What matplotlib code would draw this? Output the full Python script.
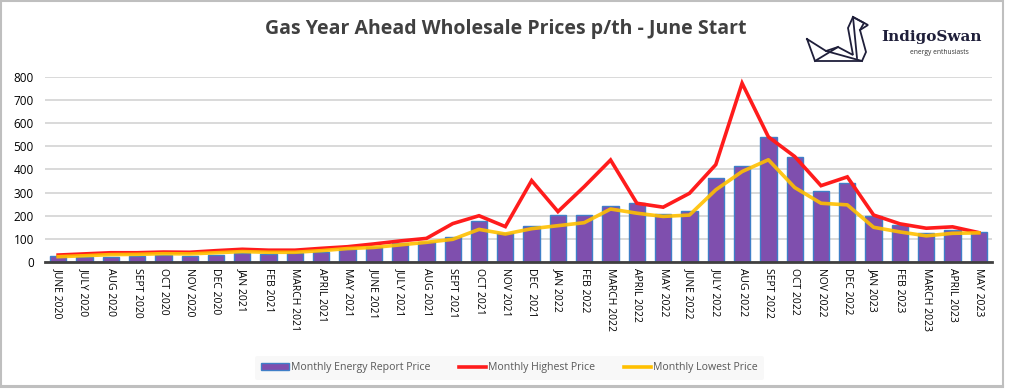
"""
Gas year-ahead wholesale prices (p/th), June 2020 - May 2023.
Bars = monthly energy report price, lines = monthly high / low.
"""

import matplotlib
matplotlib.use("Agg")
import matplotlib.pyplot as plt
from matplotlib.patches import Rectangle
from matplotlib.lines import Line2D

months = ["JUNE 2020", "JULY 2020", "AUG 2020", "SEPT 2020", "OCT 2020", "NOV 2020",
          "DEC 2020", "JAN 2021", "FEB 2021", "MARCH 2021", "APRIL 2021", "MAY 2021",
          "JUNE 2021", "JULY 2021", "AUG 2021", "SEPT 2021", "OCT 2021", "NOV 2021",
          "DEC  2021", "JAN 2022", "FEB 2022", "MARCH 2022", "APRIL 2022", "MAY 2022",
          "JUNE 2022", "JULY 2022", "AUG 2022", "SEPT 2022", "OCT 2022", "NOV 2022",
          "DEC 2022", "JAN 2023", "FEB 2023", "MARCH 2023", "APRIL 2023", "MAY 2023"]

report_price = [27, 20, 23, 26, 29, 27, 32, 37, 36, 37, 45, 55,
                66, 82, 88, 108, 176, 124, 154, 205, 202, 242, 255, 207,
                222, 365, 416, 541, 452, 307, 341, 198, 162, 124, 139, 128]

highest_price = [30, 35, 40, 40, 43, 42, 49, 55, 51, 51, 59, 66,
                 78, 91, 102, 166, 200, 153, 352, 218, 326, 441, 254, 237,
                 297, 421, 773, 541, 456, 330, 368, 203, 165, 146, 152, 127]

lowest_price = [23, 27, 32, 33, 36, 35, 40, 45, 42, 42, 49, 58,
                63, 74, 85, 98, 141, 121, 144, 157, 170, 229, 211, 197,
                203, 312, 391, 442, 322, 254, 247, 150, 130, 113, 124, 126]

yticks = [0, 100, 200, 300, 400, 500, 600, 700, 800]

PURPLE = "#7f4fae"
EDGE = "#3f7fc8"
RED = "#ff1c1c"
GOLD = "#ffc000"
TXT = "#404040"
INK = "#1f1f3a"

plt.rcParams["font.family"] = ["Open Sans", "DejaVu Sans"]

fig = plt.figure(figsize=(10.11, 3.89), dpi=100)
fig.patches.append(Rectangle((0.001, 0.005), 0.991, 0.993, transform=fig.transFigure,
                             fill=False, edgecolor="#bfbfbf", lw=1.5))

ax = fig.add_axes([0.0445, 0.3265, 0.9367, 0.4756])
x = list(range(len(months)))
ax.bar(x, report_price, width=0.62, color=PURPLE, edgecolor=EDGE, lw=1.0, zorder=2)
ax.plot(x, highest_price, color=RED, lw=2.6, zorder=3, solid_joinstyle="miter")
ax.plot(x, lowest_price, color=GOLD, lw=2.6, zorder=4, alpha=0.9)

ax.set_xlim(-0.5, len(months) - 0.5)
ax.set_ylim(0, 800)
ax.set_yticks(yticks)
ax.set_yticklabels([str(v) for v in yticks], fontsize=8.5, color="#000000")
ax.set_xticks(x)
ax.set_xticklabels(months, rotation=270, ha="center", va="top", fontsize=7.5,
                   color="#000000")
ax.tick_params(length=0, axis="y", pad=8)
ax.tick_params(length=0, axis="x", pad=4)
ax.grid(axis="y", color="#d9d9d9", lw=1.4, zorder=0)
ax.set_axisbelow(True)
for s in ["top", "right", "left"]:
    ax.spines[s].set_visible(False)
ax.spines["bottom"].set_color("#404040")
ax.spines["bottom"].set_linewidth(2.0)
ax.spines["bottom"].set_zorder(5)

fig.text(0.5, 0.925, "Gas Year Ahead Wholesale Prices p/th - June Start",
         ha="center", va="center", fontsize=14, fontweight="bold", color=TXT)

# legend
handles = [Rectangle((0, 0), 1, 1, facecolor=PURPLE, edgecolor=EDGE, lw=1),
           Line2D([], [], color=RED, lw=2.6),
           Line2D([], [], color=GOLD, lw=2.6)]
labels = ["Monthly Energy Report Price", "Monthly Highest Price", "Monthly Lowest Price"]
leg = fig.legend(handles, labels, loc="center", bbox_to_anchor=(0.504, 0.054), ncol=3,
                 frameon=True, fontsize=7.6, handlelength=2.6, handletextpad=0.2,
                 columnspacing=2.7, labelcolor="#595959", borderpad=0.6)
leg.get_frame().set_facecolor("#f7f7f7")
leg.get_frame().set_edgecolor("none")
fig.lines.append(Line2D([0.001, 0.992], [0.008, 0.008], transform=fig.transFigure,
                        color="#bfbfbf", lw=1.5))

# logo: rough origami swan + text (pixel coords)
swan = [
    [(807, 39), (815, 61), (862, 61), (866, 52), (860, 30), (864, 23), (853, 17),
     (848, 28), (853, 55), (838, 47), (826, 51), (807, 39)],
    [(815, 61), (838, 47)],
    [(826, 51), (862, 61)],
    [(853, 17), (857, 58)],
    [(853, 17), (868, 25), (860, 30)],
]
for pts in swan:
    xs = [p[0] / 1011 for p in pts]
    ys = [1 - p[1] / 389 for p in pts]
    fig.lines.append(Line2D(xs, ys, transform=fig.transFigure, color=INK, lw=1.3,
                            solid_joinstyle="miter"))
fig.text(0.872, 0.905, "IndigoSwan", ha="left", va="center", fontsize=11,
         family="DejaVu Serif", fontweight="bold", color=INK)
fig.text(0.9, 0.865, "energy enthusiasts", ha="left", va="center", fontsize=4.8,
         color="#333333")

fig.savefig("out.png", dpi=100)
